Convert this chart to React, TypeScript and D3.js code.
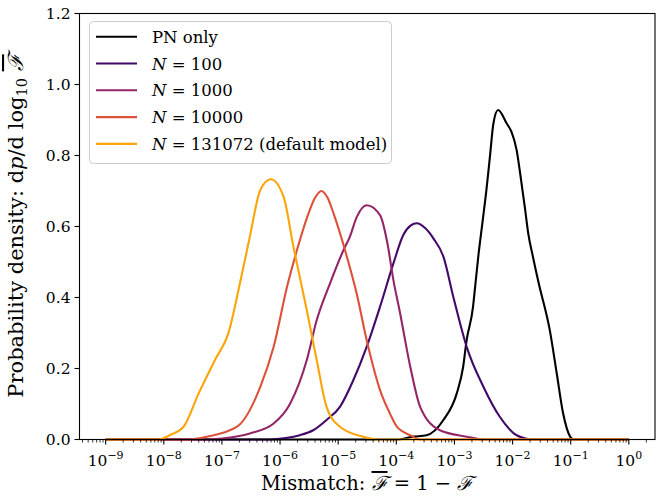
import React from 'react';
import * as d3 from 'd3';

// ---- data (x as log10 of mismatch, y as probability density) ----
const pnLog = [-9, -4.0, -3.71, -3.48, -3.19, -2.96, -2.85, -2.79, -2.68, -2.65, -2.59, -2.52, -2.45, -2.39, -2.33, -2.25, -2.10, -2.02, -1.93, -1.87, -1.79, -1.73, -1.65, -1.55, -1.36, -1.24, -1.13, -1.01, -0.95, 0];
const pnDen = [0, 0, 0.008, 0.012, 0.055, 0.13, 0.205, 0.28, 0.374, 0.421, 0.515, 0.609, 0.703, 0.796, 0.89, 0.928, 0.89, 0.867, 0.815, 0.75, 0.655, 0.58, 0.515, 0.44, 0.308, 0.186, 0.073, 0.008, 0, 0];

const n100Log = [-9, -6.2, -5.9, -5.66, -5.43, -5.2, -4.97, -4.74, -4.51, -4.28, -4.05, -3.88, -3.75, -3.65, -3.5, -3.36, -3.19, -3.02, -2.79, -2.5, -2.22, -1.93, -1.65, 0];
const n100Den = [0, 0, 0.004, 0.012, 0.026, 0.055, 0.092, 0.167, 0.261, 0.374, 0.496, 0.576, 0.603, 0.609, 0.595, 0.566, 0.515, 0.402, 0.261, 0.148, 0.064, 0.012, 0, 0];

const n1000Log = [-9, -7.3, -7.0, -6.52, -6.11, -5.83, -5.54, -5.37, -5.14, -4.91, -4.8, -4.68, -4.51, -4.28, -4.15, -4.05, -3.94, -3.76, -3.59, -3.25, -2.79, -2.5, 0];
const n1000Den = [0, 0, 0.003, 0.017, 0.045, 0.1, 0.224, 0.336, 0.44, 0.533, 0.571, 0.627, 0.66, 0.632, 0.55, 0.449, 0.36, 0.205, 0.092, 0.026, 0.008, 0, 0];

const n10000Log = [-9, -7.6, -7.26, -6.74, -6.34, -6.11, -5.88, -5.71, -5.51, -5.4, -5.29, -5.18, -5.08, -4.85, -4.68, -4.51, -4.28, -4.11, -3.99, -3.76, -3.59, 0];
const n10000Den = [0, 0, 0.008, 0.036, 0.148, 0.261, 0.43, 0.533, 0.637, 0.68, 0.7, 0.68, 0.637, 0.515, 0.41, 0.28, 0.139, 0.073, 0.036, 0.012, 0, 0];

const n131072Log = [-9, -8.1, -7.9, -7.66, -7.4, -7.12, -6.89, -6.69, -6.52, -6.34, -6.16, -5.94, -5.77, -5.54, -5.37, -5.2, -4.97, -4.57, -4.28, 0];
const n131072Den = [0, 0, 0.012, 0.036, 0.13, 0.224, 0.299, 0.44, 0.571, 0.703, 0.733, 0.684, 0.543, 0.364, 0.224, 0.092, 0.036, 0.008, 0, 0];

const seriesLabelsN = ['', '100', '1000', '10000', '131072 (default model)'];
const seriesColors = ['#000000', '#420a68', '#932667', '#dd513a', '#fca50a'];
const seriesLogs = [pnLog, n100Log, n1000Log, n10000Log, n131072Log];
const seriesDens = [pnDen, n100Den, n1000Den, n10000Den, n131072Den];

const xTickExps = [-9, -8, -7, -6, -5, -4, -3, -2, -1, 0];
const yTicks = [0, 0.2, 0.4, 0.6, 0.8, 1.0, 1.2];

const W = 672, H = 496;
const L = 79.5, R = 655, T = 13.5, B = 439.5;
const FONT = '"DejaVu Serif", "Liberation Serif", serif';

export default function App() {
  const x = d3.scaleLog().domain([Math.pow(10, -9.45), Math.pow(10, 0.45)]).range([L, R]);
  const y = d3.scaleLinear().domain([0, 1.2]).range([B, T]);

  const line = d3.line<[number, number]>()
    .x(d => x(Math.pow(10, d[0])))
    .y(d => y(d[1]))
    .curve(d3.curveMonotoneX);

  const minor: number[] = [];
  for (let e = -10; e <= 0; e++) {
    for (let k = 2; k <= 9; k++) {
      const v = k * Math.pow(10, e);
      const px = x(v);
      if (px >= L && px <= R) minor.push(v);
    }
  }

  const legendRows = [36.7, 63.5, 90.3, 117.1, 143.9];
  const fbar = { textDecoration: 'overline' } as React.CSSProperties;

  return (
    <svg width={W} height={H} style={{ position: 'absolute', left: 0, top: 0, background: '#fff' }} fontFamily={FONT}>
      <rect x={0} y={0} width={W} height={H} fill="#fff" />
      {/* curves */}
      <g fill="none" strokeWidth={2.1} strokeLinejoin="round" strokeLinecap="butt">
        {seriesLogs.map((lg, i) => {
          const pts = lg.map((v, j) => [v, seriesDens[i][j]] as [number, number]);
          return <path key={i} d={line(pts) || ''} stroke={seriesColors[i]} />;
        })}
      </g>
      {/* frame */}
      <rect x={L} y={T} width={R - L} height={B - T} fill="none" stroke="#000" strokeWidth={1.1} />
      {/* ticks */}
      <g stroke="#000" strokeWidth={1.1}>
        {xTickExps.map(e => {
          const px = x(Math.pow(10, e));
          return <line key={'M' + e} x1={px} x2={px} y1={B} y2={B + 5} />;
        })}
        {minor.map((v, i) => {
          const px = x(v);
          return <line key={'m' + i} x1={px} x2={px} y1={B} y2={B + 3} strokeWidth={0.8} />;
        })}
        {yTicks.map(t => (
          <line key={'y' + t} x1={L - 5} x2={L} y1={y(t)} y2={y(t)} />
        ))}
      </g>
      {/* tick labels */}
      <g fontSize={15.5} fill="#000">
        {xTickExps.map(e => {
          const px = x(Math.pow(10, e));
          return (
            <text key={'xl' + e} x={px} y={466} textAnchor="middle">
              10<tspan fontSize={11} dy={-7}>{e < 0 ? '\u2212' + Math.abs(e) : String(e)}</tspan>
            </text>
          );
        })}
        {yTicks.map(t => (
          <text key={'yl' + t} x={70.5} y={y(t) + 5.5} textAnchor="end">{t.toFixed(1)}</text>
        ))}
      </g>
      {/* axis labels */}
      <text x={(L + R) / 2} y={490} textAnchor="middle" fontSize={19.5}>
        Mismatch: <tspan fontStyle="italic" style={fbar}>{'\u2131'}</tspan> = 1 {'\u2212'} <tspan fontStyle="italic">{'\u2131'}</tspan>
      </text>
      <text transform={`translate(23,226) rotate(-90)`} textAnchor="middle" fontSize={21}>
        Probability density: d<tspan fontStyle="italic">p</tspan>/d log<tspan fontSize={14.5} dy={4}>10</tspan><tspan dy={-4}> </tspan><tspan fontStyle="italic" style={fbar}>{'\u2131'}</tspan>
      </text>
      {/* legend */}
      <rect x={89.5} y={21.5} width={302} height={142} rx={4} fill="#fff" fillOpacity={0.8} stroke="#cccccc" strokeWidth={1} />
      {seriesColors.map((c, i) => (
        <g key={'lg' + i}>
          <line x1={96} x2={137} y1={legendRows[i]} y2={legendRows[i]} stroke={c} strokeWidth={2.1} />
          <text x={152} y={legendRows[i] + 6} fontSize={16.5}>
            {i === 0 ? 'PN only' : (<><tspan fontStyle="italic">N</tspan> = {seriesLabelsN[i]}</>)}
          </text>
        </g>
      ))}
    </svg>
  );
}
